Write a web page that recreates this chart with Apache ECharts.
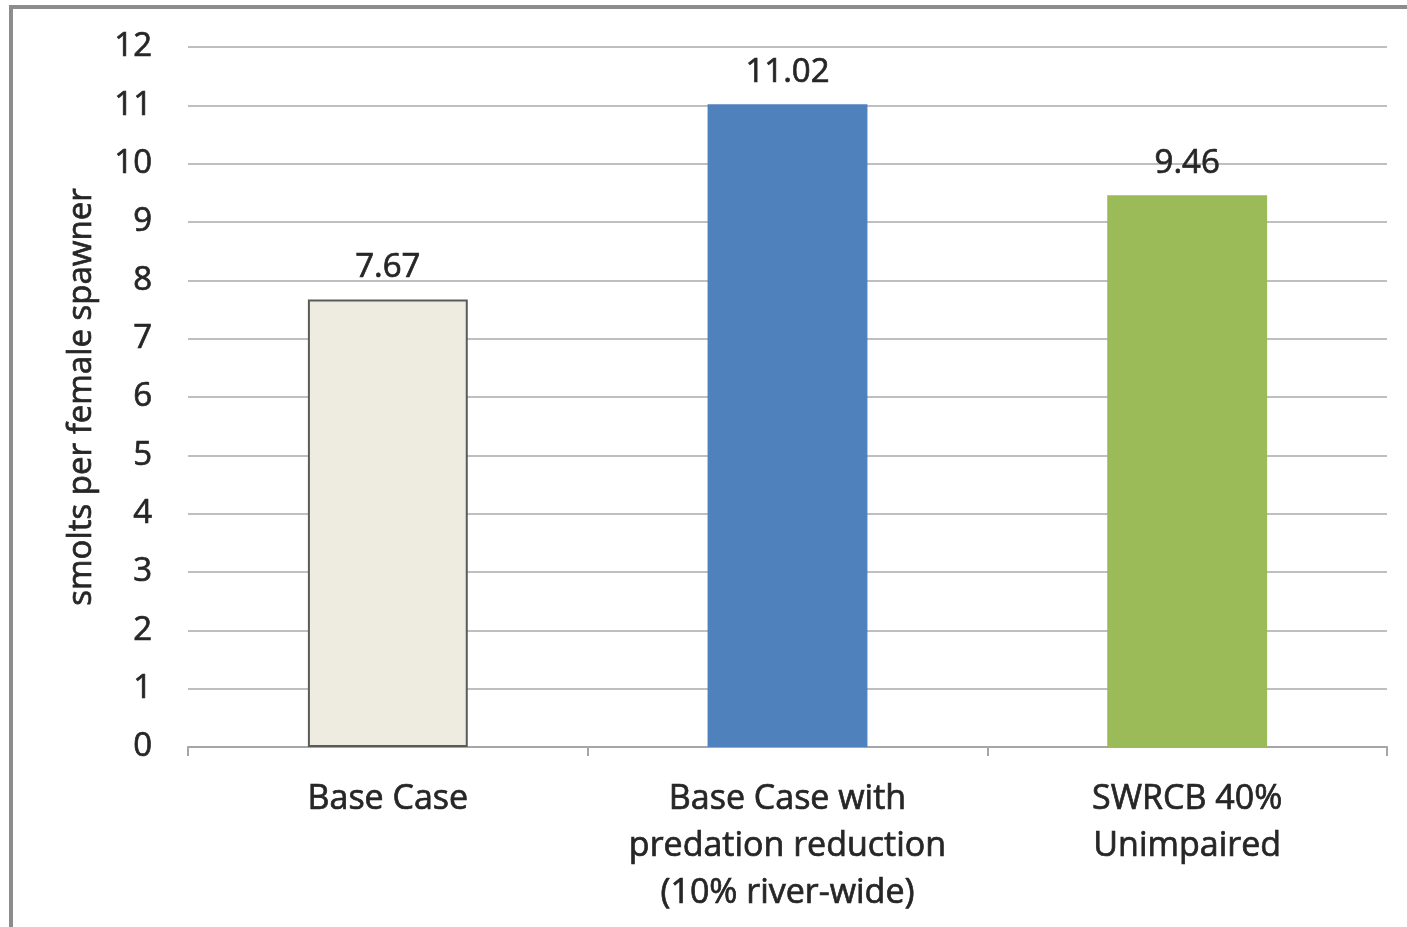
<!DOCTYPE html>
<html>
<head>
<meta charset="utf-8">
<script src="https://cdn.jsdelivr.net/npm/echarts@6/dist/echarts.min.js"></script>
<style>
  html, body { margin: 0; padding: 0; background: #fff; }
  #chart { width: 1407px; height: 927px; }
</style>
</head>
<body>
<div id="chart"></div>
<script>
// Scenarios and the resulting smolt production per female spawner
const categories = ['Base Case', 'Base Case with\npredation reduction\n(10% river-wide)', 'SWRCB 40%\nUnimpaired'];
const values = [7.67, 11.02, 9.46];
const barColors = ['#EEECE1', '#4F81BD', '#9BBB59'];
const barBorders = ['#5a5a5a', '#4F81BD', '#9BBB59'];
const yTicks = [0, 1, 2, 3, 4, 5, 6, 7, 8, 9, 10, 11, 12];
const yName = 'smolts per female spawner';

const fontFamily = '"Open Sans", "Noto Sans", sans-serif';
const textColor = '#262626';
// a thin outline in the text colour gives the labels a slightly heavier stroke
const heavy = { textBorderColor: textColor, textBorderWidth: 0.7 };

const chart = echarts.init(document.getElementById('chart'), null, { renderer: 'canvas' });

chart.setOption({
  backgroundColor: '#ffffff',
  animation: false,
  graphic: [{
    type: 'rect',
    shape: { x: 11, y: 7, width: 1500, height: 1000 },
    style: { fill: 'none', stroke: '#8c8c8c', lineWidth: 4 },
    silent: true
  }],
  grid: { left: 188, right: 20, top: 47, bottom: 180 },
  xAxis: {
    type: 'category',
    data: categories,
    axisLine: { show: true, lineStyle: { color: '#a6a6a6', width: 2 } },
    axisTick: { show: true, alignWithLabel: false, length: 9, lineStyle: { color: '#a6a6a6', width: 2 } },
    axisLabel: Object.assign({
      color: textColor, fontSize: 34, fontFamily: fontFamily,
      lineHeight: 47, margin: 29, interval: 0
    }, heavy)
  },
  yAxis: {
    type: 'value',
    min: yTicks[0],
    max: yTicks[yTicks.length - 1],
    interval: 1,
    name: yName,
    nameLocation: 'middle',
    nameGap: 90,
    nameTextStyle: Object.assign({ color: textColor, fontSize: 33, fontFamily: fontFamily }, heavy),
    axisLine: { show: false },
    axisTick: { show: false },
    axisLabel: Object.assign({ color: textColor, fontSize: 33, fontFamily: fontFamily, margin: 36 }, heavy),
    splitLine: { lineStyle: { color: '#bfbfbf', width: 2 } }
  },
  series: [{
    type: 'bar',
    barWidth: '40%',
    data: values.map((v, i) => ({
      value: v,
      itemStyle: { color: barColors[i], borderColor: barBorders[i], borderWidth: i === 0 ? 2 : 0 }
    })),
    label: Object.assign({
      show: true, position: 'top', distance: 15,
      color: textColor, fontSize: 33, fontFamily: fontFamily,
      formatter: p => p.value.toFixed(2)
    }, heavy)
  }]
});
</script>
</body>
</html>
